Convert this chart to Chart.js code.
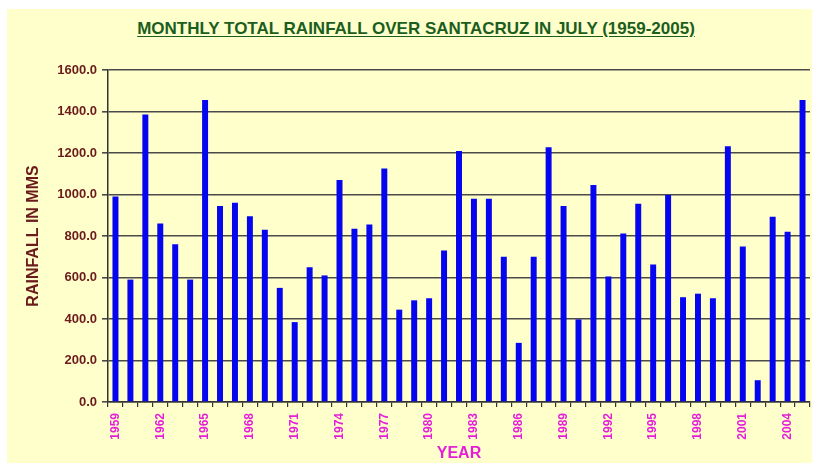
<!DOCTYPE html>
<html>
<head>
<meta charset="utf-8">
<script src="https://cdn.jsdelivr.net/npm/chart.js@4.4.1/dist/chart.umd.min.js"></script>
<style>
    html, body { margin: 0; padding: 0; background: #ffffff; }
    body { width: 817px; height: 468px; position: relative; overflow: hidden; font-family: "Liberation Sans", Arial, sans-serif; }
    #panel { position: absolute; left: 7px; top: 9px; width: 805px; height: 454px; background: #ffffcc; }
    #title { position: absolute; left: 0; width: 832px; top: 19px; text-align: center; font-weight: bold; font-size: 17px; color: #1b5e20; text-decoration: underline; text-underline-offset: 2px; }
    #wrap { position: absolute; left: 0; top: 0; width: 817px; height: 468px; }
</style>
</head>
<body>
<div id="panel"></div>
<div id="title">MONTHLY TOTAL RAINFALL OVER SANTACRUZ IN JULY (1959-2005)</div>
<div id="wrap"><canvas id="rainChart"></canvas></div>
<script>
// July rainfall, Santacruz (mm)
const years = [];
for (let y = 1959; y <= 2005; y++) years.push(String(y));

const rainfall = [
    990, 590, 1385, 860, 760, 590, 1455, 945, 960, 895,
    830, 550, 385, 650, 610, 1070, 835, 855, 1125, 445,
    490, 500, 730, 1210, 980, 980, 700, 285, 700, 1228,
    945, 398, 1046, 605, 812, 955, 663, 998, 505, 522,
    500, 1232, 750, 105, 893, 820, 1456
];

const yTicks = [0, 200, 400, 600, 800, 1000, 1200, 1400, 1600];

const maroon = '#6b1b1b';
const magenta = '#e51fd8';

new Chart(document.getElementById('rainChart'), {
    type: 'bar',
    data: {
        labels: years,
        datasets: [{
            data: rainfall,
            backgroundColor: '#0505f0',
            borderWidth: 0,
            barPercentage: 0.4,
            categoryPercentage: 1.0
        }]
    },
    options: {
        responsive: true,
        maintainAspectRatio: false,
        animation: false,
        layout: { padding: { top: 70, right: 7, left: 0, bottom: 0 } },
        plugins: {
            legend: { display: false },
            title: { display: false },
            tooltip: { enabled: false }
        },
        scales: {
            x: {
                offset: true,
                grid: { offset: true, drawOnChartArea: false, color: '#333333', lineWidth: 1.2, tickLength: 5 },
                border: { color: '#333333', width: 1.5 },
                ticks: {
                    autoSkip: false,
                    maxRotation: 90,
                    minRotation: 90,
                    padding: 6,
                    color: magenta,
                    font: { family: 'Liberation Sans', weight: 'bold', size: 12 },
                    callback: function (val, idx) { return idx % 3 === 0 ? years[idx] : ''; }
                },
                title: {
                    display: true,
                    text: 'YEAR',
                    color: magenta,
                    font: { family: 'Liberation Sans', weight: 'bold', size: 16 },
                    padding: { top: 0, bottom: 5 }
                },
                afterFit: function (scale) {
                    scale.height = 66;
                    scale.paddingLeft = 0;
                    scale.paddingRight = 0;
                }
            },
            y: {
                min: 0,
                max: 1600,
                afterBuildTicks: function (scale) { scale.ticks = yTicks.map(v => ({ value: v })); },
                grid: { color: '#4a4a4a', lineWidth: 1.6, tickLength: 6 },
                border: { color: '#333333', width: 1.5 },
                ticks: {
                    padding: 5,
                    color: maroon,
                    font: { family: 'Liberation Sans', weight: 'bold', size: 13 },
                    callback: function (v) { return Number(v).toFixed(1); }
                },
                title: {
                    display: true,
                    text: 'RAINFALL IN MMS',
                    color: maroon,
                    font: { family: 'Liberation Sans', weight: 'bold', size: 16 },
                    padding: { top: 24, bottom: 0 }
                },
                afterFit: function (scale) { scale.width = 108; }
            }
        }
    }
});
</script>
</body>
</html>
